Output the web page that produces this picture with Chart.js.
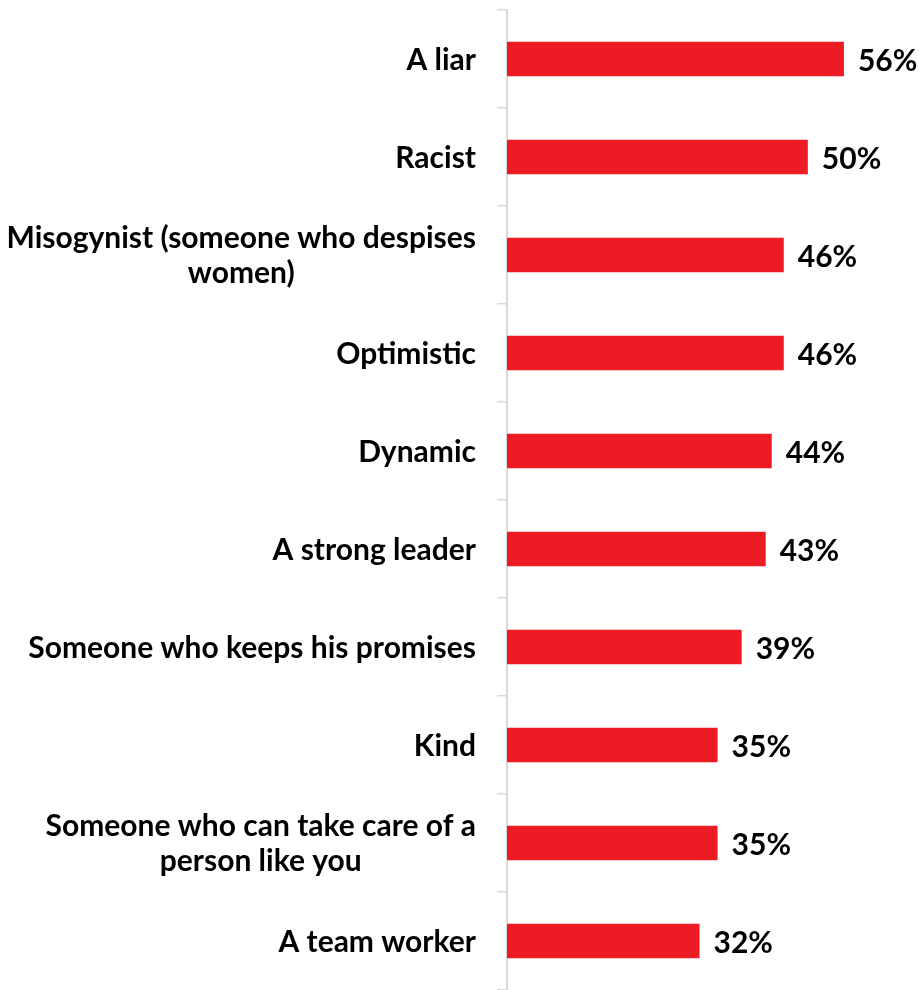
<!DOCTYPE html>
<html>
<head>
<meta charset="utf-8">
<script src="https://cdn.jsdelivr.net/npm/chart.js@4/dist/chart.umd.min.js"></script>
<style>
  html, body { margin: 0; padding: 0; background: #fff; }
  #wrap { width: 919px; height: 990px; position: relative; }
</style>
</head>
<body>
<div id="wrap"><canvas id="traitChart"></canvas></div>
<script>
const categories = [
    'A liar',
    'Racist',
    ['Misogynist (someone who despises', 'women)'],
    'Optimistic',
    'Dynamic',
    'A strong leader',
    'Someone who keeps his promises',
    'Kind',
    ['Someone who can take care of a', 'person like you'],
    'A team worker'
];
const values = [56, 50, 46, 46, 44, 43, 39, 35, 35, 32];

const FONT = 'Lato, "Open Sans", sans-serif';
const FONT_SIZE = 30;
const LINE_H = 35;
const AXIS_W = 507;

// y labels drawn by hand so wrapped lines centre on each other
const yLabels = {
    id: 'yLabels',
    afterDraw(chart) {
        const ctx = chart.ctx;
        const y = chart.scales.y;
        const right = y.right - 10 - 21;
        ctx.save();
        ctx.font = `bold ${FONT_SIZE}px ${FONT}`;
        ctx.fillStyle = '#000';
        ctx.textBaseline = 'middle';
        ctx.textAlign = 'center';
        categories.forEach((lab, i) => {
            const lines = Array.isArray(lab) ? lab : [lab];
            const w = Math.max(...lines.map(l => ctx.measureText(l).width));
            const cx = right - w / 2;
            const cy = y.getPixelForTick(i) + 1;
            const top = cy - (lines.length - 1) * LINE_H / 2;
            lines.forEach((l, j) => ctx.fillText(l, cx, top + j * LINE_H));
        });
        ctx.restore();
    }
};

// value labels at the bar ends
const valueLabels = {
    id: 'valueLabels',
    afterDatasetsDraw(chart) {
        const ctx = chart.ctx;
        const meta = chart.getDatasetMeta(0);
        ctx.save();
        ctx.font = `bold ${FONT_SIZE}px ${FONT}`;
        ctx.fillStyle = '#000';
        ctx.textBaseline = 'middle';
        ctx.textAlign = 'left';
        meta.data.forEach((bar, i) => {
            ctx.fillText(values[i] + '%', bar.x + 14, bar.y + 2);
        });
        ctx.restore();
    }
};

const ctx = document.getElementById('traitChart').getContext('2d');
new Chart(ctx, {
    type: 'bar',
    data: {
        labels: categories,
        datasets: [{
            data: values,
            backgroundColor: '#ED1C24',
            barPercentage: 0.35,
            categoryPercentage: 1
        }]
    },
    options: {
        indexAxis: 'y',
        responsive: true,
        maintainAspectRatio: false,
        animation: false,
        layout: { padding: { top: 10, right: 51, bottom: 0, left: 0 } },
        plugins: {
            legend: { display: false },
            tooltip: { enabled: false }
        },
        scales: {
            x: {
                display: false,
                min: 0,
                max: 60
            },
            y: {
                afterFit: scale => { scale.width = AXIS_W; },
                grid: {
                    drawOnChartArea: false,
                    drawTicks: true,
                    tickLength: 10,
                    color: '#d9d9d9',
                    lineWidth: 1.5,
                    offset: true
                },
                border: { color: '#d9d9d9', width: 2 },
                ticks: { display: false }
            }
        }
    },
    plugins: [yLabels, valueLabels]
});
</script>
</body>
</html>
